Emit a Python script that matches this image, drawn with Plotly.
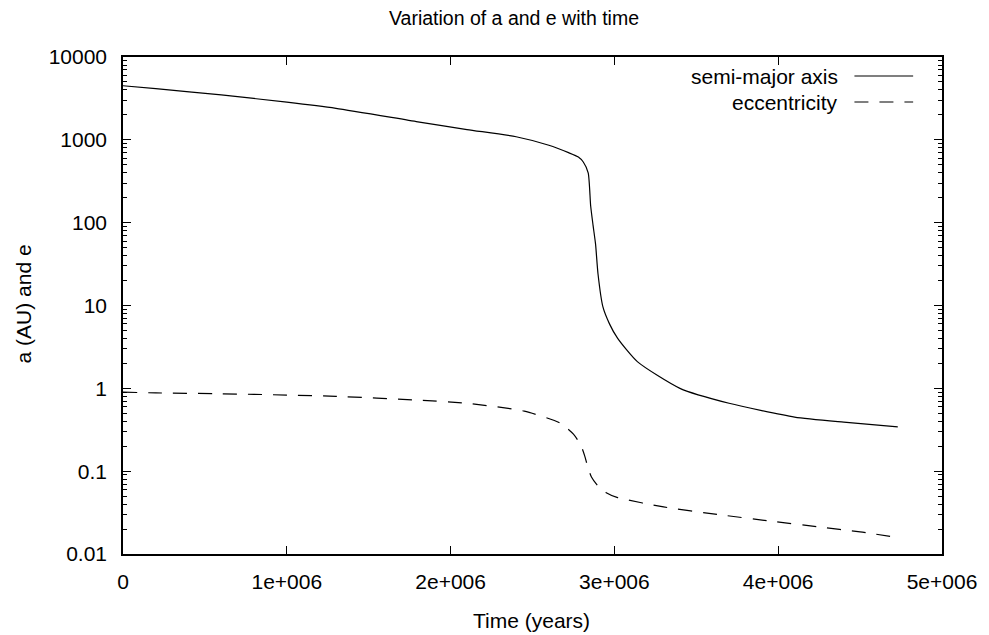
import plotly.graph_objects as go

# ---- data ----
time_years = [0, 0.2e6, 0.6e6, 1.0e6, 1.3e6, 1.8e6, 2.1e6, 2.4e6, 2.6e6, 2.72e6,
              2.78e6, 2.81e6, 2.84e6, 2.855e6, 2.87e6, 2.885e6, 2.9e6, 2.93e6,
              2.97e6, 3.02e6, 3.14e6, 3.4e6, 3.7e6, 4.1e6, 4.4e6, 4.73e6]
semi_major_axis = [4500, 4150, 3480, 2850, 2400, 1650, 1330, 1090, 860, 700,
                   620, 540, 400, 160, 92, 55, 24, 9.6,
                   6.0, 4.0, 2.1, 1.0, 0.66, 0.45, 0.39, 0.343]

time_e = [0, 0.2e6, 0.6e6, 1.0e6, 1.3e6, 1.8e6, 2.1e6, 2.45e6, 2.67e6, 2.75e6,
          2.795e6, 2.82e6, 2.837e6, 2.86e6, 2.9e6, 2.95e6, 3.02e6, 3.3e6,
          3.63e6, 3.95e6, 4.25e6, 4.5e6, 4.73e6]
eccentricity = [0.9, 0.88, 0.86, 0.83, 0.80, 0.72, 0.66, 0.53, 0.38, 0.28,
                0.206, 0.15, 0.113, 0.085, 0.066, 0.055, 0.048, 0.037,
                0.030, 0.025, 0.0212, 0.0185, 0.0158]

x_tickvals = [0, 1e6, 2e6, 3e6, 4e6, 5e6]
x_ticktext = ["0", "1e+006", "2e+006", "3e+006", "4e+006", "5e+006"]
y_tickvals = [0.01, 0.1, 1, 10, 100, 1000, 10000]
y_ticktext = ["0.01", "0.1", "1", "10", "100", "1000", "10000"]
y_minor = [m * 10 ** k for k in range(-2, 4) for m in range(2, 10)]

series_names = ["semi-major axis", "eccentricity"]

FONT = "Liberation Sans, Arial, sans-serif"
FS = 21
LW = 1.2
DASH = "14px,11px"

fig = go.Figure()
fig.add_trace(go.Scatter(x=time_years, y=semi_major_axis, mode="lines",
                         name=series_names[0], showlegend=False,
                         line=dict(color="black", width=LW, shape="spline", smoothing=0.6)))
fig.add_trace(go.Scatter(x=time_e, y=eccentricity, mode="lines",
                         name=series_names[1], showlegend=False,
                         line=dict(color="black", width=LW, dash=DASH,
                                   shape="spline", smoothing=0.6)))

fig.update_layout(
    width=989, height=635,
    margin=dict(l=123, r=43, t=57, b=81),
    paper_bgcolor="white", plot_bgcolor="white",
    font=dict(family=FONT, size=FS, color="black"),
    xaxis=dict(range=[0, 5e6], tickmode="array", tickvals=x_tickvals, ticktext=x_ticktext,
               ticks="inside", ticklen=8, tickcolor="black", showgrid=False, zeroline=False,
               showline=True, linecolor="black", linewidth=1.5, mirror="ticks",
               ticklabelstandoff=8),
    yaxis=dict(type="log", range=[-2, 4], tickmode="array", tickvals=y_tickvals,
               ticktext=y_ticktext, ticks="inside", ticklen=8, tickcolor="black",
               showgrid=False, zeroline=False, showline=True, linecolor="black",
               linewidth=1.5, mirror="ticks", ticklabelstandoff=10,
               minor=dict(tickmode="array", tickvals=y_minor, ticks="inside",
                          ticklen=4, tickcolor="black", showgrid=False)),
)

ann = [
    dict(text="Variation of a and e with time", xref="paper", yref="paper",
         x=(516 - 123) / 823, y=(554 - 18) / 497, showarrow=False,
         xanchor="center", yanchor="middle", font=dict(size=19.5)),
    dict(text="Time (years)", xref="paper", yref="paper",
         x=(533 - 123) / 823, y=(554 - 620) / 497, showarrow=False,
         xanchor="center", yanchor="middle"),
    dict(text="a (AU) and e", xref="paper", yref="paper", textangle=-90,
         x=(23 - 123) / 823, y=(554 - 304) / 497, showarrow=False,
         xanchor="center", yanchor="middle"),
]
legend_rows_y = [76, 102]
dashes = ["solid", DASH]
for name, py, d in zip(series_names, legend_rows_y, dashes):
    ann.append(dict(text=name, xref="paper", yref="paper",
                    x=(843 - 123) / 823, y=(554 - py) / 497, showarrow=False,
                    xanchor="right", yanchor="middle"))
    fig.add_shape(type="line", xref="paper", yref="paper",
                  x0=(858 - 123) / 823, x1=(917 - 123) / 823,
                  y0=(554 - py) / 497, y1=(554 - py) / 497,
                  line=dict(color="black", width=LW, dash=d))
fig.update_layout(annotations=ann)

fig.write_html("out.html", config={"displayModeBar": False},
               post_script="document.body.style.margin='0';document.body.style.overflow='hidden';")
